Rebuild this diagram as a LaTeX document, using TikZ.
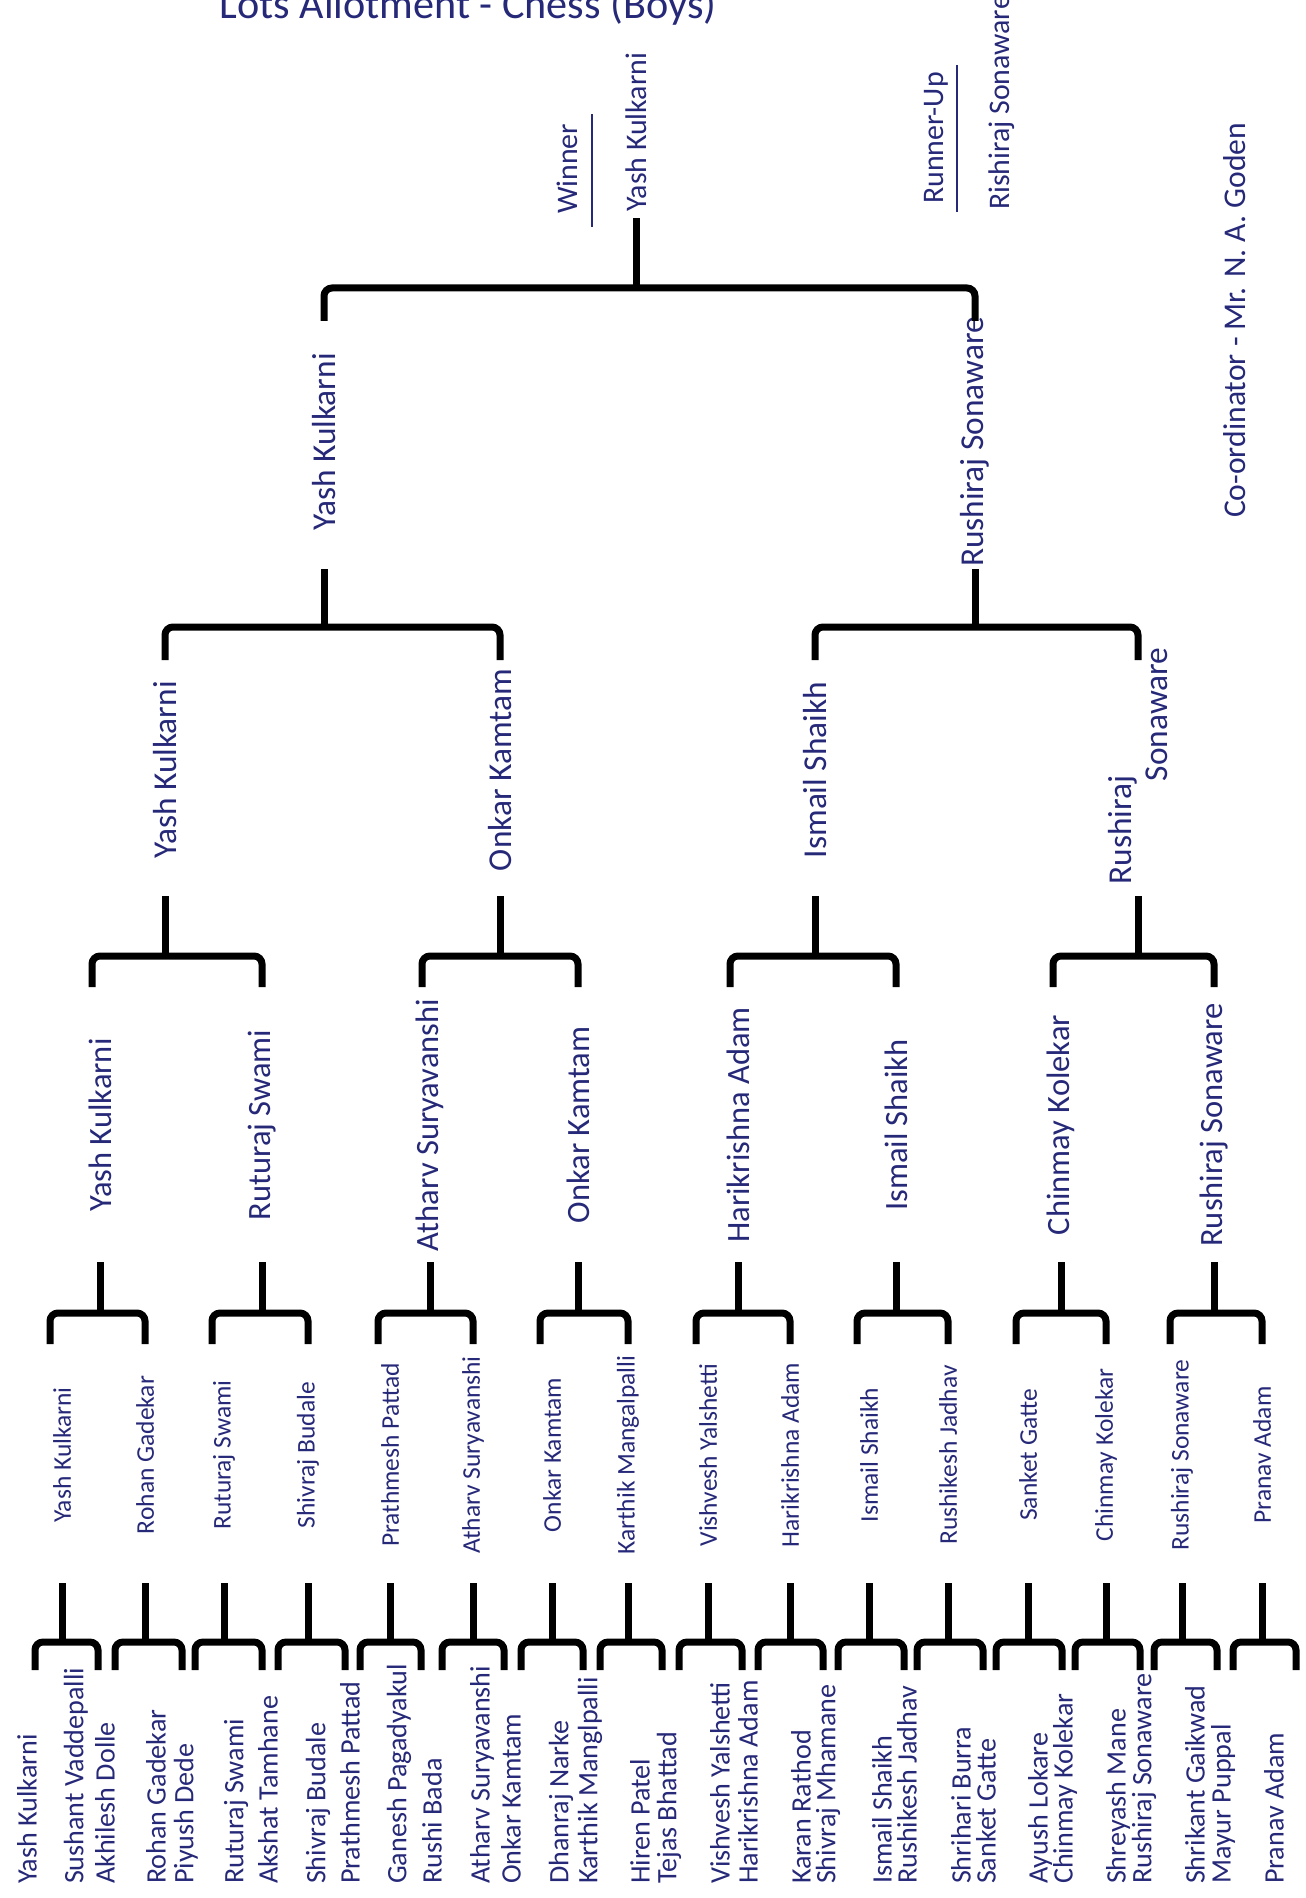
\documentclass[tikz,border=0pt]{standalone}
\usepackage{fontspec}
\setmainfont{Carlito}
\usepackage{tikz}
\usetikzlibrary{calc}
\definecolor{ink}{RGB}{38,40,120}
\tikzstyle{bracket} = [draw=black, line width=1.4mm, rounded corners=1.6mm]
\tikzstyle{player} = [rotate=90, text=ink, inner sep=1pt]
\tikzstyle{entry} = [player, anchor=west, font=\fontsize{16}{18}\selectfont]
\tikzstyle{rtwo} = [player, font=\fontsize{14.5}{16}\selectfont]
\tikzstyle{rthree} = [player, font=\fontsize{18.5}{21}\selectfont]
\tikzstyle{rfour} = [player, font=\fontsize{19}{21}\selectfont]
\tikzstyle{note} = [player, anchor=west, font=\fontsize{17}{19}\selectfont]
\tikzstyle{uline} = [draw=ink, line width=0.35mm]
\newcommand{\duel}[8]{%
  \draw[bracket] ($(#1 |- 0,#4)+(#7,0)$) -- ($(#1 |- 0,#5)+(#7,0)$) -- ($(#2 |- 0,#5)+(#8,0)$) -- ($(#2 |- 0,#4)+(#8,0)$);
  \draw[bracket] (#3 |- 0,#5) -- (#3 |- 0,#6);}

\begin{document}
\begin{tikzpicture}[x=0.2mm, y=-0.2mm]
\useasboundingbox (0,0) rectangle (1305,1898);
\clip (0,0) rectangle (1305,1898);

\node[text=ink, font=\fontsize{24}{27}\selectfont, anchor=base] (title) at (468,19) {Lots Allotment - Chess (Boys)};

\node[entry] (a1) at (27,1886) {Yash Kulkarni};
\node[entry] (a2) at (76,1886) {Sushant Vaddepalli};
\node[entry] (a3) at (105,1886) {Akhilesh Dolle};
\node[entry] (a4) at (156,1886) {Rohan Gadekar};
\node[entry] (a5) at (186,1886) {Piyush Dede};
\node[entry] (a6) at (236,1886) {Ruturaj Swami};
\node[entry] (a7) at (268,1886) {Akshat Tamhane};
\node[entry] (a8) at (318,1886) {Shivraj Budale};
\node[entry] (a9) at (350,1886) {Prathmesh Pattad};
\node[entry] (a10) at (399,1886) {Ganesh Pagadyakul};
\node[entry] (a11) at (432,1886) {Rushi Bada};
\node[entry] (a12) at (482,1886) {Atharv Suryavanshi};
\node[entry] (a13) at (511,1886) {Onkar Kamtam};
\node[entry] (a14) at (561,1886) {Dhanraj Narke};
\node[entry] (a15) at (590,1886) {Karthik Manglpalli};
\node[entry] (a16) at (640,1886) {Hiren Patel};
\node[entry] (a17) at (669,1886) {Tejas Bhattad};
\node[entry] (a18) at (720,1886) {Vishvesh Yalshetti};
\node[entry] (a19) at (748,1886) {Harikrishna Adam};
\node[entry] (a20) at (801,1886) {Karan Rathod};
\node[entry] (a21) at (828,1886) {Shivraj Mhamane};
\node[entry] (a22) at (882,1886) {Ismail Shaikh};
\node[entry] (a23) at (907,1886) {Rushikesh Jadhav};
\node[entry] (a24) at (961,1886) {Shrihari Burra};
\node[entry] (a25) at (986,1886) {Sanket Gatte};
\node[entry] (a26) at (1040,1886) {Ayush Lokare};
\node[entry] (a27) at (1065,1886) {Chinmay Kolekar};
\node[entry] (a28) at (1118,1886) {Shreyash Mane};
\node[entry] (a29) at (1144,1886) {Rushiraj Sonaware};
\node[entry] (a30) at (1195,1886) {Shrikant Gaikwad};
\node[entry] (a31) at (1223,1886) {Mayur Puppal};
\node[entry] (a32) at (1274,1886) {Pranav Adam};

\node[rtwo] (b1) at (62,1455) {Yash Kulkarni};
\node[rtwo] (b2) at (145,1455) {Rohan Gadekar};
\node[rtwo] (b3) at (224,1455) {Ruturaj Swami};
\node[rtwo] (b4) at (308,1455) {Shivraj Budale};
\node[rtwo] (b5) at (390,1455) {Prathmesh Pattad};
\node[rtwo] (b6) at (473,1455) {Atharv Suryavanshi};
\node[rtwo] (b7) at (552,1455) {Onkar Kamtam};
\node[rtwo] (b8) at (628,1455) {Karthik Mangalpalli};
\node[rtwo] (b9) at (708,1455) {Vishvesh Yalshetti};
\node[rtwo] (b10) at (790,1455) {Harikrishna Adam};
\node[rtwo] (b11) at (869,1455) {Ismail Shaikh};
\node[rtwo] (b12) at (948,1455) {Rushikesh Jadhav};
\node[rtwo] (b13) at (1028,1455) {Sanket Gatte};
\node[rtwo] (b14) at (1106,1455) {Chinmay Kolekar};
\node[rtwo] (b15) at (1182,1455) {Rushiraj Sonaware};
\node[rtwo] (b16) at (1262,1455) {Pranav Adam};

\node[rthree] (c1) at (100,1125) {Yash Kulkarni};
\node[rthree] (c2) at (262,1125) {Ruturaj Swami};
\node[rthree] (c3) at (430,1125) {Atharv Suryavanshi};
\node[rthree] (c4) at (578,1125) {Onkar Kamtam};
\node[rthree] (c5) at (738,1125) {Harikrishna Adam};
\node[rthree] (c6) at (896,1125) {Ismail Shaikh};
\node[rthree] (c7) at (1061,1125) {Chinmay Kolekar};
\node[rthree] (c8) at (1214,1125) {Rushiraj Sonaware};

\node[rfour] (d1) at (165,770) {Yash Kulkarni};
\node[rfour] (d2) at (500,770) {Onkar Kamtam};
\node[rfour] (d3) at (815,770) {Ismail Shaikh};
\node[rfour, align=left] (d4) at (1138,766) {Rushiraj\\\hspace*{3.1em}Sonaware};

\node[rfour] (e1) at (324,442) {Yash Kulkarni};
\node[rfour] (e2) at (975,442) {Rushiraj Sonaware};

\node[note] (win) at (636,214) {Yash Kulkarni};
\node[note] (wlabel) at (567,216) {Winner};
\node[note] (rlabel) at (936,206) {Runner-Up};
\node[note] (runner) at (1002,212) {Rishiraj Sonaware};
\node[note, font=\fontsize{18}{20}\selectfont] (coord) at (1235,520) {Co-ordinator - Mr. N. A. Goden};

\draw[uline, shorten <=-2.2mm, shorten >=-1.6mm] ([xshift=7pt]wlabel.south west) -- ([xshift=7pt]wlabel.south east);
\draw[uline, shorten <=-1.2mm, shorten >=-1mm] ([xshift=4pt]rlabel.south west) -- ([xshift=4pt]rlabel.south east);

\duel{a1}{a2}{b1}{1670}{1642}{1583}{8}{22}
\duel{a3}{a4}{b2}{1670}{1642}{1583}{10}{26}
\duel{a5}{a6}{b3}{1670}{1642}{1583}{9}{26}
\duel{a7}{a8}{b4}{1670}{1642}{1583}{10}{27}
\duel{a9}{a10}{b5}{1670}{1642}{1583}{10}{22}
\duel{a11}{a12}{b6}{1670}{1642}{1583}{10}{22}
\duel{a13}{a14}{b7}{1670}{1642}{1583}{10}{22}
\duel{a15}{a16}{b8}{1670}{1642}{1583}{10}{22}
\duel{a17}{a18}{b9}{1670}{1642}{1583}{10}{22}
\duel{a19}{a20}{b10}{1670}{1642}{1583}{10}{22}
\duel{a21}{a22}{b11}{1670}{1642}{1583}{10}{22}
\duel{a23}{a24}{b12}{1670}{1642}{1583}{10}{22}
\duel{a25}{a26}{b13}{1670}{1642}{1583}{10}{22}
\duel{a27}{a28}{b14}{1670}{1642}{1583}{10}{22}
\duel{a29}{a30}{b15}{1670}{1642}{1583}{10}{22}
\duel{a31}{a32}{b16}{1670}{1642}{1583}{10}{22}

\duel{b1}{b2}{c1}{1344}{1313}{1262}{-12}{0}
\duel{b3}{b4}{c2}{1344}{1313}{1262}{-12}{0}
\duel{b5}{b6}{c3}{1344}{1313}{1262}{-12}{0}
\duel{b7}{b8}{c4}{1344}{1313}{1262}{-12}{0}
\duel{b9}{b10}{c5}{1344}{1313}{1262}{-12}{0}
\duel{b11}{b12}{c6}{1344}{1313}{1262}{-12}{0}
\duel{b13}{b14}{c7}{1344}{1313}{1262}{-12}{0}
\duel{b15}{b16}{c8}{1344}{1313}{1262}{-12}{0}

\duel{c1}{c2}{d1}{987}{956}{896}{-8}{0}
\duel{c3}{c4}{d2}{987}{956}{896}{-8}{0}
\duel{c5}{c6}{d3}{987}{956}{896}{-8}{0}
\duel{c7}{c8}{d4}{987}{956}{896}{-8}{0}

\duel{d1}{d2}{e1}{660}{627}{569}{0}{0}
\duel{d3}{d4}{e2}{660}{627}{569}{0}{0}

\duel{e1}{e2}{win}{321}{288}{218}{0}{0}

\end{tikzpicture}
\end{document}
